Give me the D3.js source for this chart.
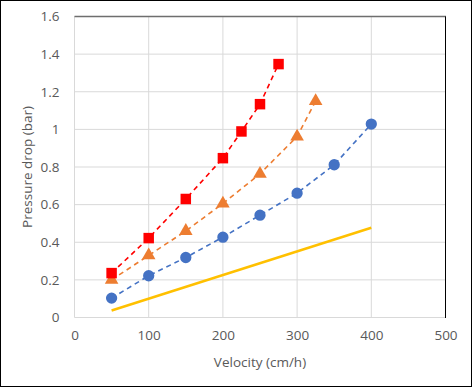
<!DOCTYPE html>
<html lang="en">
<head>
<meta charset="UTF-8">
<title>Pressure drop</title>
<script src="https://cdn.jsdelivr.net/npm/d3@7"></script>
<style>
  body { margin: 0; background: #fff; }
  text { font-family: "Open Sans", "Liberation Sans", sans-serif; fill: #595959; }
</style>
</head>
<body>
<script>
    const [width, height] = [472, 387]
    const margin = {left: 74.5, right: 26.5, top: 16.5, bottom: 69.5}

    // data
    const xTicks = [0, 100, 200, 300, 400, 500]
    const yTicks = [0, 0.2, 0.4, 0.6, 0.8, 1, 1.2, 1.4, 1.6]
    const redX = [50, 100, 150, 200, 225, 250, 275]
    const redY = [0.236, 0.422, 0.63, 0.847, 0.989, 1.134, 1.347]
    const orangeX = [50, 100, 150, 200, 250, 300, 325]
    const orangeY = [0.20, 0.33, 0.46, 0.606, 0.764, 0.962, 1.15]
    const blueX = [50, 100, 150, 200, 250, 300, 350, 400]
    const blueY = [0.103, 0.222, 0.319, 0.427, 0.544, 0.661, 0.812, 1.028]
    const yellowX = [50, 400]
    const yellowY = [0.037, 0.477]

    const svg = d3.select('body').append('svg').attr('width', width).attr('height', height)

    // outer frame
    svg.append('rect').attr('x', 0.5).attr('y', 0.5).attr('width', width - 1).attr('height', height - 1)
        .attr('fill', '#fff').attr('stroke', '#000')

    const x = d3.scaleLinear().domain([0, 500]).range([margin.left, width - margin.right])
    const y = d3.scaleLinear().domain([0, 1.6]).range([height - margin.bottom, margin.top])

    // grid lines
    svg.append('g').selectAll('line').data(xTicks).join('line')
        .attr('x1', d => x(d)).attr('x2', d => x(d))
        .attr('y1', y(0)).attr('y2', y(1.6))
        .attr('stroke', '#d9d9d9')
    svg.append('g').selectAll('line').data(yTicks).join('line')
        .attr('x1', x(0)).attr('x2', x(500))
        .attr('y1', d => y(d)).attr('y2', d => y(d))
        .attr('stroke', '#d9d9d9')

    // top / right plot borders
    svg.append('line').attr('x1', x(0)).attr('x2', x(500) + 0.5).attr('y1', y(1.6)).attr('y2', y(1.6))
        .attr('stroke', '#6e6e6e').attr('stroke-width', 1.6)
    svg.append('line').attr('x1', x(500)).attr('x2', x(500)).attr('y1', y(1.6)).attr('y2', y(0) + 0.5)
        .attr('stroke', '#000')

    // axes (labels only)
    const xAxis = d3.axisBottom(x).tickValues(xTicks).tickSize(0).tickPadding(13)
    svg.append('g').attr('transform', `translate(0, ${y(0)})`).call(xAxis)
        .call(g => g.select('.domain').remove())
        .selectAll('text').attr('font-size', 13.5).style('font-family', null)
    const yAxis = d3.axisLeft(y).tickValues(yTicks).tickFormat(d3.format('~g')).tickSize(0).tickPadding(15)
    svg.append('g').attr('transform', `translate(${x(0)}, 0)`).call(yAxis)
        .call(g => g.select('.domain').remove())
        .selectAll('text').attr('font-size', 13.5).style('font-family', null)

    svg.append('text').attr('x', (x(0) + x(500)) / 2).attr('y', 367)
        .attr('text-anchor', 'middle').attr('font-size', 13.5).text('Velocity (cm/h)')
    svg.append('text').attr('transform', `translate(32, ${(y(0) + y(1.6)) / 2}) rotate(-90)`)
        .attr('text-anchor', 'middle').attr('font-size', 13.5).text('Pressure drop (bar)')

    const line = d3.line().x(d => x(d[0])).y(d => y(d[1]))
    const zip = (a, b) => a.map((v, i) => [v, b[i]])

    // yellow solid line
    svg.append('path').datum(zip(yellowX, yellowY)).attr('d', line)
        .attr('fill', 'none').attr('stroke', '#ffc000').attr('stroke-width', 2.5)

    const series = [
        {xs: blueX, ys: blueY, color: '#4472c4', shape: d3.symbolCircle, size: 100},
        {xs: orangeX, ys: orangeY, color: '#ed7d31', shape: d3.symbolTriangle, size: 80},
        {xs: redX, ys: redY, color: '#ff0000', shape: d3.symbolSquare, size: 110}
    ]
    series.forEach(s => {
        const pts = zip(s.xs, s.ys)
        svg.append('path').datum(pts).attr('d', line)
            .attr('fill', 'none').attr('stroke', s.color).attr('stroke-width', 1.6)
            .attr('stroke-dasharray', '5,4')
        svg.append('g').selectAll('path').data(pts).join('path')
            .attr('transform', d => `translate(${x(d[0])}, ${y(d[1])})`)
            .attr('d', d3.symbol().type(s.shape).size(s.size))
            .attr('fill', s.color)
    })
</script>
</body>
</html>
